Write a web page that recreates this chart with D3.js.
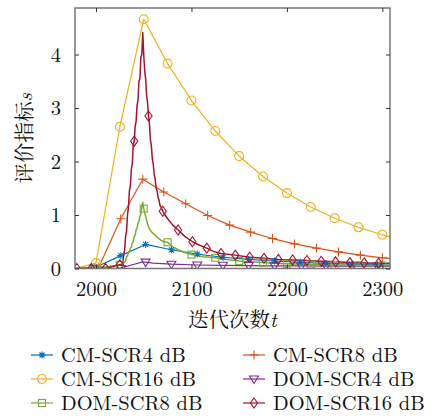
<!DOCTYPE html>
<html lang="zh">
<head>
<meta charset="UTF-8">
<title>评价指标</title>
<style>
  body { margin: 0; background: #fff; }
</style>
</head>
<body>
<div id="chart"></div>
<script src="https://d3js.org/d3.v7.min.js"></script>
<script>
// 数据
const X_TICKS = [2000, 2100, 2200, 2300];
const Y_TICKS = [0, 1, 2, 3, 4];

const cmScr4X = [1978, 1999, 2026, 2052, 2079, 2106, 2133, 2160, 2187, 2214, 2241, 2268, 2295, 2308];
const cmScr4Y = [0, 0.02, 0.24, 0.45, 0.35, 0.27, 0.21, 0.17, 0.14, 0.115, 0.095, 0.08, 0.07, 0.065];
const cmScr4M = [1999, 2026, 2052, 2079, 2106, 2133, 2160, 2187, 2214, 2241, 2268, 2295];

const cmScr8X = [1978, 2003, 2026, 2049, 2071, 2094, 2117, 2140, 2162, 2185, 2208, 2231, 2254, 2277, 2300, 2308];
const cmScr8Y = [0, 0.03, 0.93, 1.67, 1.43, 1.21, 0.99, 0.81, 0.68, 0.56, 0.46, 0.38, 0.31, 0.25, 0.2, 0.19];
const cmScr8M = [2003, 2026, 2049, 2071, 2094, 2117, 2140, 2162, 2185, 2208, 2231, 2254, 2277, 2300];

const cmScr16X = [1978, 2000, 2025, 2050, 2075, 2100, 2125, 2150, 2175, 2200, 2225, 2250, 2275, 2300, 2308];
const cmScr16Y = [0, 0.1, 2.65, 4.66, 3.83, 3.14, 2.57, 2.1, 1.72, 1.41, 1.15, 0.94, 0.77, 0.63, 0.59];
const cmScr16M = [2000, 2025, 2050, 2075, 2100, 2125, 2150, 2175, 2200, 2225, 2250, 2275, 2300];

const domScr4X = [1978, 1999, 2026, 2030, 2040, 2048, 2052, 2060, 2079, 2106, 2133, 2160, 2187, 2215, 2241, 2268, 2295, 2308];
const domScr4Y = [0, 0, 0, 0.03, 0.08, 0.12, 0.12, 0.1, 0.08, 0.065, 0.06, 0.055, 0.05, 0.048, 0.046, 0.044, 0.042, 0.04];
const domScr4M = [1999, 2026, 2052, 2079, 2106, 2133, 2160, 2187, 2215, 2241, 2268, 2295];

const domScr8X = [1978, 2000, 2025, 2028, 2030, 2031, 2032, 2033, 2034, 2035, 2036, 2037, 2038, 2039, 2040, 2041, 2042, 2043,
  2044, 2045, 2046, 2047, 2048, 2049, 2050, 2051, 2052, 2053, 2054, 2055, 2056, 2058, 2060, 2062, 2065, 2068, 2071, 2075,
  2080, 2086, 2093, 2100, 2112, 2125, 2137, 2150, 2162, 2175, 2187, 2200, 2225, 2250, 2275, 2300, 2308];
const domScr8Y = [0, 0, 0.07, 0.08, 0.12, 0.15, 0.22, 0.24, 0.3, 0.32, 0.38, 0.4, 0.48, 0.5, 0.6, 0.62, 0.72, 0.75,
  0.85, 0.88, 0.98, 1.02, 1.15, 1.24, 1.12, 1.05, 0.98, 0.9, 0.84, 0.78, 0.74, 0.69, 0.65, 0.62, 0.57, 0.53, 0.5, 0.49,
  0.41, 0.35, 0.3, 0.26, 0.22, 0.2, 0.17, 0.14, 0.125, 0.11, 0.1, 0.09, 0.075, 0.065, 0.06, 0.055, 0.055];
const domScr8M = [2000, 2025, 2050, 2075, 2100, 2125, 2150, 2175, 2200, 2225, 2250, 2275, 2300];

const domScr16X = [1978, 1980, 1995, 2010, 2025, 2026, 2028, 2029, 2030, 2031, 2032, 2033, 2034, 2035, 2036, 2037, 2038,
  2039, 2040, 2041, 2042, 2043, 2044, 2045, 2046, 2047, 2048, 2049, 2050, 2051, 2052, 2053, 2054, 2055, 2056, 2057, 2058,
  2059, 2060, 2061, 2062, 2063, 2064, 2065, 2066, 2067, 2068, 2070, 2075, 2080, 2086, 2093, 2101, 2108, 2116, 2123, 2131,
  2146, 2161, 2176, 2191, 2206, 2221, 2236, 2251, 2266, 2281, 2296, 2308];
const domScr16Y = [0, 0, 0, 0, 0.07, 0.06, 0.1, 0.25, 0.35, 0.6, 0.7, 1.0, 1.15, 1.45, 1.55, 1.85, 1.95,
  2.3, 2.38, 2.65, 2.75, 3.05, 3.15, 3.5, 3.55, 3.95, 4.0, 4.41, 4.0, 3.7, 3.55, 3.25, 3.1, 2.85, 2.7, 2.4, 2.3,
  2.05, 1.95, 1.75, 1.67, 1.5, 1.45, 1.33, 1.28, 1.18, 1.15, 1.07, 0.93, 0.82, 0.72, 0.6, 0.5, 0.44, 0.38, 0.32, 0.28,
  0.25, 0.21, 0.19, 0.17, 0.16, 0.15, 0.135, 0.125, 0.11, 0.105, 0.1, 0.1];
const domScr16M = [1980, 1995, 2010, 2025, 2040, 2055, 2070, 2086, 2101, 2116, 2131, 2146, 2161, 2176, 2191, 2206,
  2221, 2236, 2251, 2266, 2281, 2296];

const SERIES = [
  { name: "CM-SCR4 dB", xs: cmScr4X, ys: cmScr4Y, marks: cmScr4M, color: "#0072BD", symbol: "asterisk", w: 1.2 },
  { name: "CM-SCR8 dB", xs: cmScr8X, ys: cmScr8Y, marks: cmScr8M, color: "#D95319", symbol: "plus", w: 1.2 },
  { name: "CM-SCR16 dB", xs: cmScr16X, ys: cmScr16Y, marks: cmScr16M, color: "#EDB120", symbol: "circle", w: 1.2 },
  { name: "DOM-SCR4 dB", xs: domScr4X, ys: domScr4Y, marks: domScr4M, color: "#7E2F8E", symbol: "triangle", w: 1.2 },
  { name: "DOM-SCR8 dB", xs: domScr8X, ys: domScr8Y, marks: domScr8M, color: "#77AC30", symbol: "square", w: 1.5 },
  { name: "DOM-SCR16 dB", xs: domScr16X, ys: domScr16Y, marks: domScr16M, color: "#A2142F", symbol: "diamond", w: 1.5 }
];

const W = 435, H = 416;
const L = 75, R = 390, T = 8, B = 268.5;
const LATIN = '"Latin Modern Roman", "Liberation Serif", serif';
const CJK = '"Noto Serif CJK SC", "Noto Sans CJK SC", serif';
const FS = "20.5px";

const x = d3.scaleLinear().domain([1978, 2308]).range([L, R]);
const y = d3.scaleLinear().domain([0, 4.87]).range([B, T]);

const svg = d3.select("#chart").append("svg")
  .attr("width", W).attr("height", H);

svg.append("clipPath").attr("id", "clip")
  .append("rect").attr("x", L).attr("y", T).attr("width", R - L).attr("height", B - T);

// 标记形状
function drawMarker(g, sym, cx, cy, color) {
  const s = g.append("g").attr("transform", `translate(${cx},${cy})`)
    .attr("fill", "none").attr("stroke", color).attr("stroke-width", 1.1);
  if (sym === "circle") s.append("circle").attr("r", 4.5);
  else if (sym === "square") s.append("rect").attr("x", -3.5).attr("y", -3.5).attr("width", 7).attr("height", 7);
  else if (sym === "diamond") s.append("path").attr("d", "M0,-5L3.6,0L0,5L-3.6,0Z");
  else if (sym === "triangle") s.append("path").attr("d", "M-4.5,-3L4.5,-3L0,4.5Z");
  else if (sym === "plus") s.append("path").attr("d", "M-4.5,0H4.5M0,-4.5V4.5");
  else if (sym === "asterisk") s.append("path").attr("d", "M-3.5,0H3.5M0,-3.5V3.5M-2.5,-2.5L2.5,2.5M-2.5,2.5L2.5,-2.5");
}

// 曲线
const line = d3.line().x(d => x(d[0])).y(d => y(d[1]));
const plot = svg.append("g").attr("clip-path", "url(#clip)");
SERIES.forEach(s => {
  const pts = s.xs.map((v, i) => [v, s.ys[i]]);
  plot.append("path").datum(pts)
    .attr("d", line).attr("fill", "none")
    .attr("stroke", s.color).attr("stroke-width", s.w).attr("stroke-linejoin", "round");
});
SERIES.forEach(s => {
  s.marks.forEach(m => {
    const i = s.xs.indexOf(m);
    drawMarker(plot, s.symbol, x(m), y(s.ys[i]), s.color);
  });
});

// 坐标框
svg.append("rect").attr("x", L).attr("y", T).attr("width", R - L).attr("height", B - T)
  .attr("fill", "none").attr("stroke", "#777").attr("stroke-width", 1.5);

const xAxis = svg.append("g").attr("transform", `translate(0,${B})`)
  .call(d3.axisBottom(x).tickValues(X_TICKS).tickSize(-4).tickPadding(13).tickFormat(d3.format("d")));
const xTop = svg.append("g").attr("transform", `translate(0,${T})`)
  .call(d3.axisTop(x).tickValues(X_TICKS).tickSize(-4).tickFormat(""));
const yAxis = svg.append("g").attr("transform", `translate(${L},0)`)
  .call(d3.axisLeft(y).tickValues(Y_TICKS).tickSize(-4).tickPadding(14).tickFormat(d3.format("d")));
const yRight = svg.append("g").attr("transform", `translate(${R},0)`)
  .call(d3.axisRight(y).tickValues(Y_TICKS).tickSize(-4).tickFormat(""));
[xAxis, xTop, yAxis, yRight].forEach(a => {
  a.select(".domain").remove();
  a.selectAll(".tick line").attr("stroke", "#333").attr("stroke-width", 1);
  a.selectAll(".tick text").style("font-size", FS).style("font-family", LATIN).attr("fill", "#111");
});

// 轴标题
const xl = svg.append("text").attr("x", (L + R) / 2).attr("y", 327)
  .attr("text-anchor", "middle").style("font-size", FS).attr("fill", "#111");
xl.append("tspan").style("font-family", CJK).text("迭代次数");
xl.append("tspan").style("font-family", LATIN).style("font-style", "italic").text("t");

const yl = svg.append("text").attr("transform", `translate(32,${(T + B) / 2}) rotate(-90)`)
  .attr("text-anchor", "middle").style("font-size", FS).attr("fill", "#111");
yl.append("tspan").style("font-family", CJK).text("评价指标");
yl.append("tspan").style("font-family", LATIN).style("font-style", "italic").text("s");

// 图例
const legend = svg.append("g");
SERIES.forEach((s, i) => {
  const col = i % 2, row = Math.floor(i / 2);
  const lx = col === 0 ? 31 : 243;
  const ly = 355 + row * 24;
  const g = legend.append("g");
  g.append("line").attr("x1", lx).attr("x2", lx + 22).attr("y1", ly).attr("y2", ly)
    .attr("stroke", s.color).attr("stroke-width", 1.2);
  drawMarker(g, s.symbol, lx + 11, ly, s.color);
  g.append("text").attr("x", lx + 30).attr("y", ly + 7).style("font-size", FS)
    .style("font-family", LATIN).attr("fill", "#111").text(s.name);
});
</script>
</body>
</html>
